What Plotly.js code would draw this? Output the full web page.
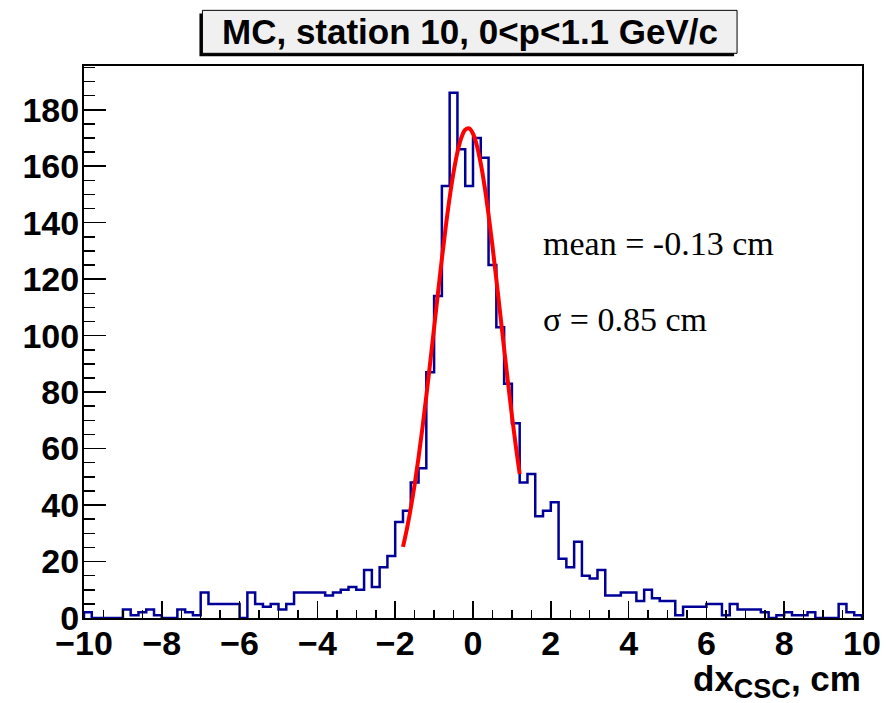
<!DOCTYPE html>
<html>
<head>
<meta charset="utf-8">
<script src="https://cdn.plot.ly/plotly-3.0.1.min.js"></script>
<style>
  html, body { margin: 0; padding: 0; background: #fff; }
  #chart { width: 887px; height: 703px; }
</style>
</head>
<body>
<div id="chart"></div>
<script>
// Histogram binning (axis definition)
const binStart = -10;
const binWidth = 0.2;

// Bin contents (100 bins from -10 to 10)
const counts = [
  2, 0, 0, 0, 0, 3, 1, 2, 3, 1,
  0, 0, 3, 2, 1, 9, 5, 5, 5, 5,
  0, 9, 5, 4, 5, 3, 5, 9, 9, 9,
  9, 8, 9, 10, 11, 10, 17, 11, 18, 22,
  34, 38, 48, 53, 87, 114, 153, 186, 166, 153,
  170, 163, 125, 103, 83, 69, 48, 51, 36, 38,
  41, 21, 18, 27, 15, 14, 17, 8, 8, 9,
  9, 6, 10, 7, 6, 6, 1, 4, 4, 4,
  5, 5, 1, 5, 3, 3, 3, 2, 0, 1,
  2, 1, 1, 2, 0, 0, 0, 5, 2, 1
];

// Fitted curve points
const fitX = [-1.8,-1.7,-1.6,-1.5,-1.4,-1.3,-1.2,-1.1,-1.0,-0.9,-0.8,-0.7,-0.6,-0.5,-0.4,-0.3,-0.2,-0.1,
              0.0,0.1,0.2,0.3,0.4,0.5,0.6,0.7,0.8,0.9,1.0,1.1,1.2];
const fitY = [25.2,31.5,38.9,47.3,56.8,67.3,78.6,90.5,102.8,115.1,127.2,138.6,148.9,157.8,165.0,170.1,172.9,173.4,
              171.5,167.3,160.9,152.7,142.8,131.8,120.0,107.7,95.4,83.3,71.7,60.9,51.0];

// Texts
const titleText = "MC, station 10, 0&lt;p&lt;1.1 GeV/c";
const meanText = "mean = -0.13 cm";
const sigmaText = "σ = 0.85 cm";
const xTitleText = "dx<sub><span style=\"font-size:27px\">CSC</span></sub>, cm";
const xTickVals = [-10,-8,-6,-4,-2,0,2,4,6,8,10];
const yTickVals = [0,20,40,60,80,100,120,140,160,180];

// Step outline of the histogram
const edges = counts.map((_, i) => binStart + i * binWidth);
const xEnd = binStart + counts.length * binWidth;
const stepX = [binStart].concat(edges, [xEnd, xEnd]);
const stepY = [0].concat(counts, [counts[counts.length - 1], 0]);

const histTrace = {
  type: 'scatter', mode: 'lines',
  x: stepX, y: stepY,
  line: { shape: 'hv', color: '#000099', width: 2.5 },
  hoverinfo: 'skip', showlegend: false, cliponaxis: true
};
const fitTrace = {
  type: 'scatter', mode: 'lines',
  x: fitX, y: fitY,
  line: { shape: 'spline', color: '#ff0000', width: 4 },
  hoverinfo: 'skip', showlegend: false
};

const tickFont = { family: 'Liberation Sans, Arial, sans-serif', size: 34, color: '#000', weight: 'bold' };

const layout = {
  width: 887, height: 703,
  margin: { l: 83.5, r: 25, t: 65.7, b: 84.5, pad: 0 },
  paper_bgcolor: '#fff', plot_bgcolor: '#fff',
  showlegend: false,
  xaxis: {
    range: [-10, 10],
    tickvals: xTickVals,
    ticks: 'inside', ticklen: 17, tickwidth: 1.5, tickcolor: '#000',
    ticklabelstandoff: -6,
    minor: { dtick: 0.5, tick0: 0, ticks: 'inside', ticklen: 8.5, tickwidth: 1.5, tickcolor: '#000', showgrid: false },
    showline: true, linecolor: '#000', linewidth: 2, mirror: true,
    showgrid: false, zeroline: false,
    tickfont: tickFont
  },
  yaxis: {
    range: [0, 195.5],
    tickvals: yTickVals,
    ticks: 'inside', ticklen: 22, tickwidth: 1.5, tickcolor: '#000',
    ticklabelstandoff: -4,
    minor: { dtick: 5, tick0: 0, ticks: 'inside', ticklen: 11, tickwidth: 1.5, tickcolor: '#000', showgrid: false },
    showline: true, linecolor: '#000', linewidth: 2, mirror: true,
    showgrid: false, zeroline: false,
    tickfont: tickFont
  },
  shapes: [
    { type: 'rect', xref: 'paper', yref: 'paper', x0: 0.1484, x1: 0.8356, y0: 1.0175, y1: 1.0953,
      fillcolor: '#000', line: { width: 0 }, layer: 'above' },
    { type: 'rect', xref: 'paper', yref: 'paper', x0: 0.1522, x1: 0.8394, y0: 1.0230, y1: 1.1008,
      fillcolor: '#f0f0f0', line: { color: '#000', width: 1 }, layer: 'above' }
  ],
  annotations: [
    { xref: 'paper', yref: 'paper', x: 0.4958, y: 1.0619, xanchor: 'center', yanchor: 'middle',
      text: titleText, showarrow: false,
      font: { family: 'Liberation Sans, Arial, sans-serif', size: 35, color: '#000', weight: 'bold' } },
    { xref: 'paper', yref: 'paper', x: 0.5877, y: 0.6793, xanchor: 'left', yanchor: 'middle',
      text: meanText, showarrow: false,
      font: { family: 'Liberation Serif, Times New Roman, serif', size: 34, color: '#000' } },
    { xref: 'paper', yref: 'paper', x: 0.5877, y: 0.5400, xanchor: 'left', yanchor: 'middle',
      text: sigmaText, showarrow: false,
      font: { family: 'Liberation Serif, Times New Roman, serif', size: 34, color: '#000' } },
    { xref: 'paper', yref: 'paper', x: 1.0, y: -0.115, xanchor: 'right', yanchor: 'middle',
      text: xTitleText, showarrow: false, borderpad: 0,
      font: { family: 'Liberation Sans, Arial, sans-serif', size: 35, color: '#000', weight: 'bold' } }
  ]
};

Plotly.newPlot('chart', [histTrace, fitTrace], layout, { staticPlot: true, displayModeBar: false });
</script>
</body>
</html>
